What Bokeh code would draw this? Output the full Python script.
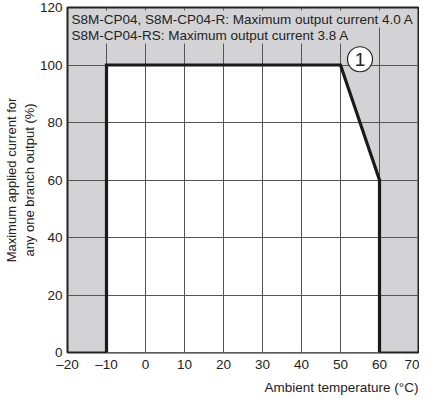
from bokeh.plotting import figure
from bokeh.models import Range1d, FixedTicker, Label, Title
from bokeh.core.properties import value
from bokeh.embed import file_html
from bokeh.resources import INLINE

# Data
temps = [-10, -10, 50, 60, 60]
currents = [0, 100, 100, 60, 0]
x_ticks = [-20, -10, 0, 10, 20, 30, 40, 50, 60, 70]
y_ticks = [0, 20, 40, 60, 80, 100, 120]
note_lines = ["S8M-CP04, S8M-CP04-R: Maximum output current 4.0 A",
              "S8M-CP04-RS: Maximum output current 3.8 A"]
x_title = "Ambient temperature (\u00b0C)"
y_title = "Maximum applied current for\nany one branch output (%)"
marker_x = [55]
marker_y = [102]
marker_text = ["1"]

FONT = "Liberation Sans"
GRAY = "#d3d3d5"

p = figure(width=419, height=397, output_backend="svg", toolbar_location=None,
           x_range=Range1d(-20, 70), y_range=Range1d(0, 120),
           min_border_left=58, min_border_right=1, min_border_top=7, min_border_bottom=10)
p.background_fill_color = GRAY
p.border_fill_color = "white"
p.outline_line_color = "#222222"
p.outline_line_width = 2

# white safe operating area
poly = p.patch(temps, currents, fill_color="white", line_color=None)
poly.level = "image"

# grid
for g in (p.xgrid, p.ygrid):
    g.grid_line_color = "#555555"
    g.grid_line_width = 1
p.xgrid.ticker = FixedTicker(ticks=x_ticks)
p.ygrid.ticker = FixedTicker(ticks=y_ticks)

# curve
p.line(temps, currents, line_color="#1a1a1a", line_width=3.2, line_join="miter")

# axes
p.xaxis.ticker = FixedTicker(ticks=x_ticks)
p.yaxis.ticker = FixedTicker(ticks=y_ticks)
p.xaxis.major_label_overrides = {t: (str(t).replace("-", "\u2013")) for t in x_ticks}
for ax in (p.xaxis[0], p.yaxis[0]):
    ax.axis_line_color = None
    ax.major_tick_line_color = None
    ax.minor_tick_line_color = None
    ax.major_tick_out = 0
    ax.major_tick_in = 0
    ax.minor_tick_out = 0
    ax.minor_tick_in = 0
    ax.major_label_text_font = FONT
    ax.major_label_text_font_size = "13.5px"
    ax.major_label_text_color = "#222222"
    ax.axis_label_text_font = FONT
    ax.axis_label_text_font_size = "13px"
    ax.axis_label_text_font_style = "normal"
    ax.axis_label_text_color = "#222222"
p.xaxis.major_label_standoff = 4
p.yaxis.major_label_standoff = 5
p.yaxis.axis_label = y_title
p.yaxis.axis_label_standoff = 0

# x-axis title, right-aligned under the frame
p.add_layout(Title(text=x_title, align="right", text_font=FONT, text_font_size="13.5px",
                   text_font_style="normal", text_color="#222222", standoff=6), "below")

# notes
for i, txt in enumerate(note_lines):
    lab = Label(x=-20, y=120, x_offset=3, y_offset=-3 - 16 * i, text=txt,
                text_font=FONT, text_font_size="13.5px", text_color="#222222",
                text_baseline="top", text_align="left",
                background_fill_color=GRAY, padding=1)
    p.add_layout(lab)

# circled marker
p.scatter(marker_x, marker_y, size=25, marker="circle", fill_color="white",
          line_color="#222222", line_width=1.2)
p.text(marker_x, marker_y, text=marker_text, text_font=value(FONT), text_font_size="19px",
       text_align="center", text_baseline="middle", text_color="#222222")

open("out.html", "w").write(file_html(p, INLINE))
